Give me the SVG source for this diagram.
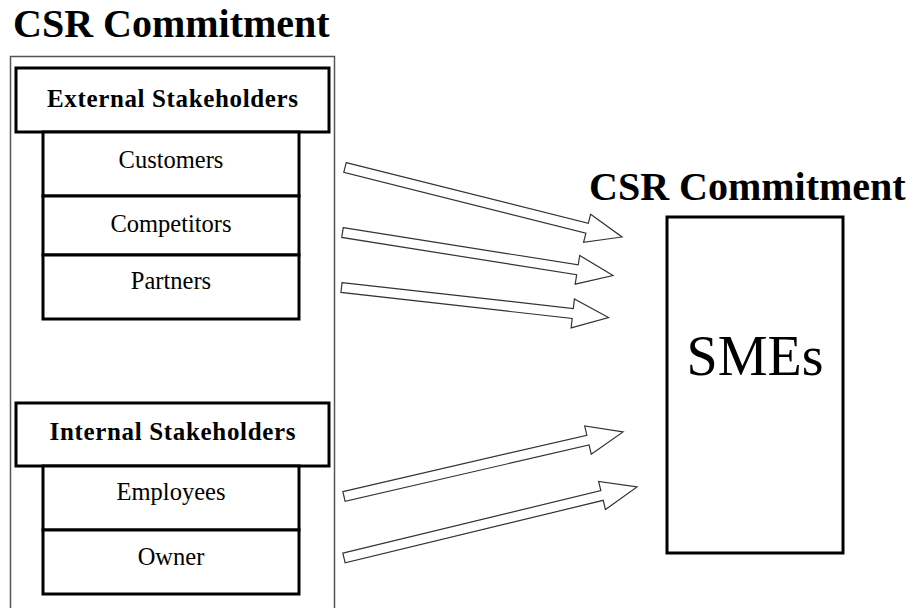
<svg xmlns="http://www.w3.org/2000/svg" width="910" height="608" viewBox="0 0 910 608">
  <style>
    .title { font-family: "Liberation Serif", "Times New Roman", serif; font-weight: bold; font-size: 40px; fill: #000; }
    .head { font-family: "Liberation Serif", "Times New Roman", serif; font-weight: bold; font-size: 25px; fill: #000; text-anchor: middle; }
    .item { font-family: "Liberation Serif", "Times New Roman", serif; font-size: 24.5px; fill: #000; text-anchor: middle; }
    .big { font-family: "Liberation Serif", "Times New Roman", serif; font-size: 56px; fill: #000; text-anchor: middle; }
    .box { fill: #fff; stroke: #000; stroke-width: 3; }
    .frame { fill: none; stroke: #555; stroke-width: 1.5; }
    .arrow { fill: #fff; stroke: #333; stroke-width: 1.2; stroke-linejoin: miter; }
  </style>
  <rect width="910" height="608" fill="#fff"/>

  <!-- left column: stakeholder groups -->
  <text class="title" x="13" y="37">CSR Commitment</text>
  <rect id="frame" class="frame" x="10.5" y="56.5" width="324" height="560"/>

  <g id="external">
    <rect class="box" x="16" y="68" width="313" height="64"/>
    <text class="head" x="172.5" y="107" textLength="251" lengthAdjust="spacing">External  Stakeholders</text>
  </g>
  <g id="customers">
    <rect class="box" x="43" y="132" width="256" height="64"/>
    <text class="item" x="171" y="168">Customers</text>
  </g>
  <g id="competitors">
    <rect class="box" x="43" y="196" width="256" height="59"/>
    <text class="item" x="171" y="232">Competitors</text>
  </g>
  <g id="partners">
    <rect class="box" x="43" y="255" width="256" height="64"/>
    <text class="item" x="171" y="289">Partners</text>
  </g>

  <g id="internal">
    <rect class="box" x="16" y="403" width="313" height="63"/>
    <text class="head" x="172.5" y="440" textLength="246" lengthAdjust="spacing">Internal  Stakeholders</text>
  </g>
  <g id="employees">
    <rect class="box" x="43" y="466" width="256" height="64"/>
    <text class="item" x="171" y="500">Employees</text>
  </g>
  <g id="owner">
    <rect class="box" x="43" y="530" width="256" height="64"/>
    <text class="item" x="171" y="565">Owner</text>
  </g>

  <!-- right column: the firm -->
  <text class="title" x="589" y="200">CSR Commitment</text>
  <g id="smes">
    <rect class="box" x="667" y="217" width="176" height="336"/>
    <text class="big" x="755" y="375">SMEs</text>
  </g>

  <!-- block arrows: tail at origin, pointing along +x -->
  <g id="connectors">
    <polygon class="arrow" transform="translate(345 167.5) rotate(14.08)" points="0,-5 249.6,-5 249.6,-14.5 285.6,0 249.6,14.5 249.6,5 0,5"/>
    <polygon class="arrow" transform="translate(342.5 232.5) rotate(9.03)" points="0,-5 237.9,-5 237.9,-14.5 273.9,0 237.9,14.5 237.9,5 0,5"/>
    <polygon class="arrow" transform="translate(341.5 287.5) rotate(6.41)" points="0,-5 232.7,-5 232.7,-14.5 268.7,0 232.7,14.5 232.7,5 0,5"/>
    <polygon class="arrow" transform="translate(344 496.5) rotate(-13.02)" points="0,-5 250.4,-5 250.4,-14.5 286.4,0 250.4,14.5 250.4,5 0,5"/>
    <polygon class="arrow" transform="translate(344 558) rotate(-13.62)" points="0,-5 265.5,-5 265.5,-14.5 301.5,0 265.5,14.5 265.5,5 0,5"/>
  </g>
</svg>
